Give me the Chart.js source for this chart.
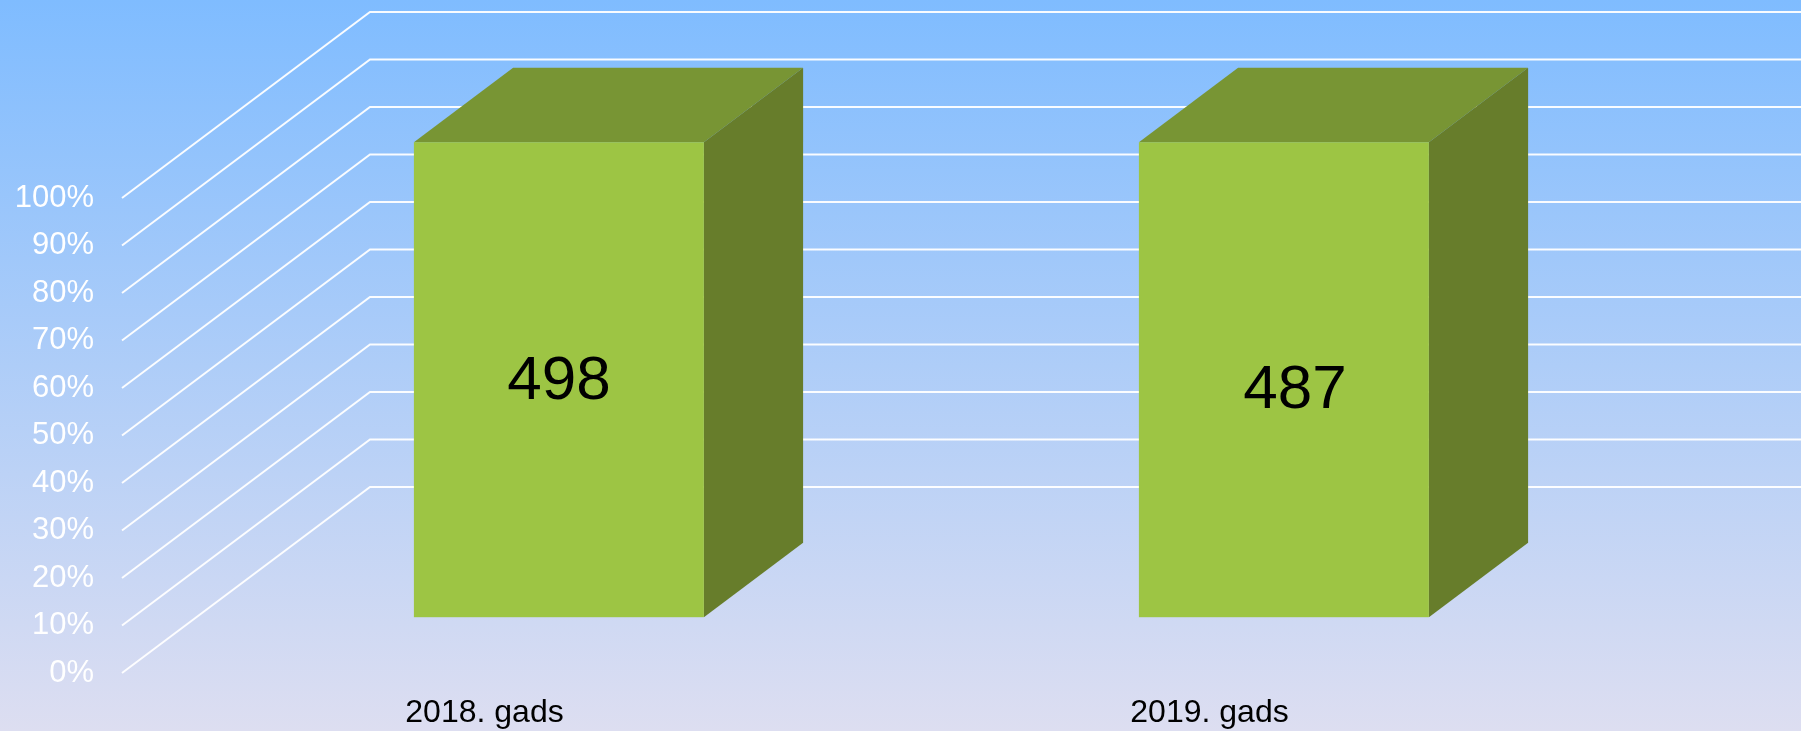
<!DOCTYPE html>
<html>
<head>
<meta charset="utf-8">
<script src="https://cdn.jsdelivr.net/npm/chart.js@4.4.1/dist/chart.umd.min.js"></script>
<style>
	html, body { margin: 0; padding: 0; overflow: hidden; }
</style>
</head>
<body>
<canvas id="canvasBars" width="1801" height="731"></canvas>
<script>
"use strict";

// data
var categories = ['2018. gads', '2019. gads'];
var shares = [100, 100];          // 100% stacked, one series
var counts = [498, 487];          // numbers printed on the bars
var yTicks = [0, 10, 20, 30, 40, 50, 60, 70, 80, 90, 100];

var fontFamily = "'Liberation Sans', Arial, sans-serif";

// draws the 3D walls, boxes and labels
var box3d = {
	id: 'box3d',
	beforeDraw: function (chart) {
		var ctx = chart.ctx;
		var g = ctx.createLinearGradient(0, 0, 0, chart.height);
		g.addColorStop(0, '#7fbcff');
		g.addColorStop(1, '#dddef1');
		ctx.save();
		ctx.fillStyle = g;
		ctx.fillRect(0, 0, chart.width, chart.height);
		ctx.restore();
	},
	beforeDatasetsDraw: function (chart, args, opts) {
		var ctx = chart.ctx;
		var y = chart.scales.y;
		var left = chart.chartArea.left;
		ctx.save();
		ctx.strokeStyle = 'rgba(255, 255, 255, 0.95)';
		ctx.lineWidth = 2;
		y.ticks.forEach(function (t) {
			var py = y.getPixelForValue(t.value);
			ctx.beginPath();
			ctx.moveTo(left, py);
			ctx.lineTo(left + opts.dx, py + opts.dy);
			ctx.lineTo(chart.width, py + opts.dy);
			ctx.stroke();
		});
		ctx.restore();
	},
	afterDatasetsDraw: function (chart, args, opts) {
		var ctx = chart.ctx;
		var meta = chart.getDatasetMeta(0);
		var fx = opts.dx * opts.front, fy = opts.dy * opts.front;
		var bx = opts.dx * opts.depth, by = opts.dy * opts.depth;
		ctx.save();
		meta.data.forEach(function (bar, i) {
			var x0 = bar.x - bar.width / 2 + fx;
			var x1 = bar.x + bar.width / 2 + fx;
			var top = bar.y + fy;
			var bottom = bar.base + fy;

			// top face
			ctx.fillStyle = '#789534';
			ctx.beginPath();
			ctx.moveTo(x0, top);
			ctx.lineTo(x0 + bx, top + by);
			ctx.lineTo(x1 + bx, top + by);
			ctx.lineTo(x1, top);
			ctx.closePath();
			ctx.fill();

			// side face
			ctx.fillStyle = '#677d2b';
			ctx.beginPath();
			ctx.moveTo(x1, top);
			ctx.lineTo(x1 + bx, top + by);
			ctx.lineTo(x1 + bx, bottom + by);
			ctx.lineTo(x1, bottom);
			ctx.closePath();
			ctx.fill();

			// front face
			ctx.fillStyle = '#9dc544';
			ctx.fillRect(x0, top, x1 - x0, bottom - top);

			// value label
			var off = opts.labelShift[i] || [0, 0];
			ctx.fillStyle = '#000000';
			ctx.font = '62px ' + fontFamily;
			ctx.textAlign = 'center';
			ctx.textBaseline = 'middle';
			ctx.fillText(String(counts[i]), (x0 + x1) / 2 + off[0], (top + bottom) / 2 + off[1] + 2);
		});
		ctx.restore();
	}
};

const context = document.getElementById('canvasBars');
const myChart = new Chart(context, {
	type: 'bar',
	data: {
		labels: categories,
		datasets: [{
			label: 'Skaits',
			data: shares,
			backgroundColor: 'rgba(0, 0, 0, 0)',
			borderWidth: 0,
			barPercentage: 0.4,
			categoryPercentage: 1
		}]
	},
	options: {
		responsive: false,
		animation: false,
		events: [],
		layout: {
			padding: { top: 198, right: 229, left: 0, bottom: 0 }
		},
		plugins: {
			legend: { display: false },
			tooltip: { enabled: false },
			box3d: {
				dx: 248,
				dy: -186,
				front: 0.3,
				depth: 0.4,
				labelShift: [[0, 0], [11, 9]]
			}
		},
		scales: {
			x: {
				grid: { display: false, drawTicks: false },
				border: { display: false },
				ticks: {
					color: '#000000',
					font: { family: fontFamily, size: 32 },
					padding: 21,
					maxRotation: 0
				},
				afterFit: function (scale) { scale.height = 58; }
			},
			y: {
				min: 0,
				max: 100,
				grid: { display: false, drawTicks: false },
				border: { display: false },
				ticks: {
					color: '#ffffff',
					font: { family: fontFamily, size: 31 },
					padding: 28,
					callback: function (value) { return value + '%'; }
				},
				afterBuildTicks: function (scale) {
					scale.ticks = yTicks.map(function (v) { return { value: v }; });
				},
				afterFit: function (scale) { scale.width = 122; }
			}
		}
	},
	plugins: [box3d]
});
</script>
</body>
</html>
